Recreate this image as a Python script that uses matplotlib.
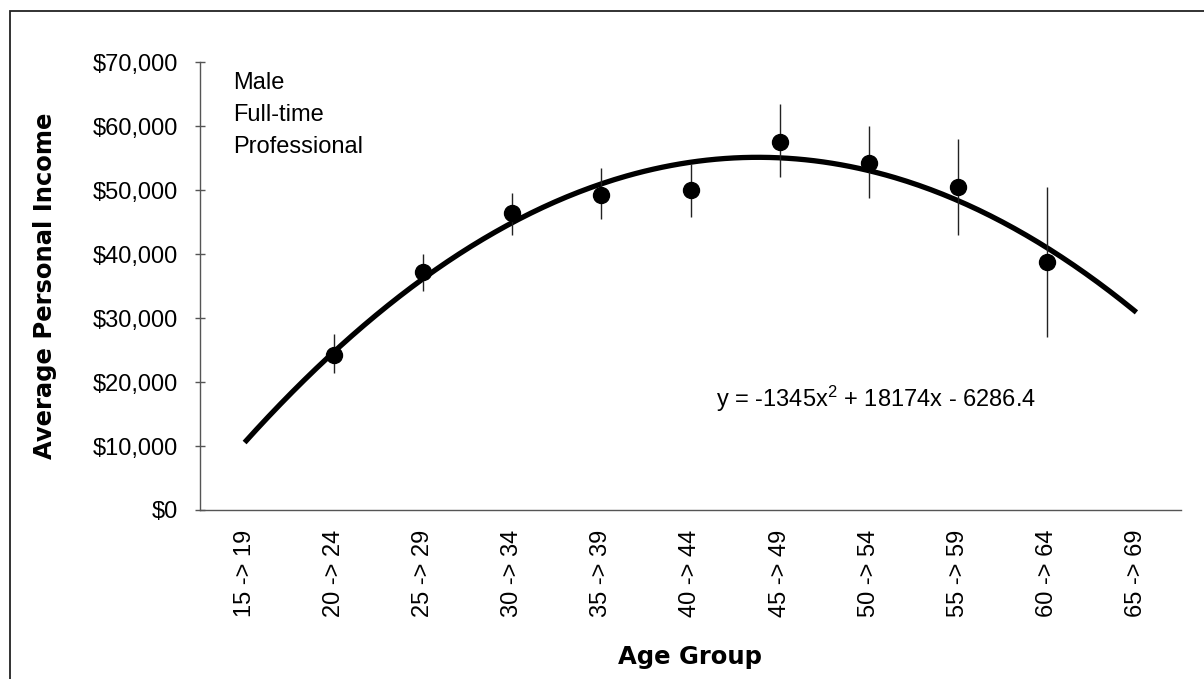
import numpy as np
import matplotlib
matplotlib.use("Agg")
import matplotlib.pyplot as plt
from matplotlib.patches import Rectangle

plt.rcParams['font.family'] = ['Liberation Sans', 'DejaVu Sans']
plt.rcParams['mathtext.default'] = 'regular'

# ---- data ----
age_groups = ["15 -> 19", "20 -> 24", "25 -> 29", "30 -> 34", "35 -> 39", "40 -> 44",
              "45 -> 49", "50 -> 54", "55 -> 59", "60 -> 64", "65 -> 69"]
point_groups = ["20 -> 24", "25 -> 29", "30 -> 34", "35 -> 39", "40 -> 44",
                "45 -> 49", "50 -> 54", "55 -> 59", "60 -> 64"]
income_mean = [24200, 37200, 46350, 49200, 50050, 57550, 54150, 50450, 38800]
income_upper = [27500, 40000, 49600, 53450, 54050, 63400, 60000, 57950, 50450]
income_lower = [21400, 34200, 42950, 45450, 45800, 52100, 48800, 42950, 27100]
# trendline coefficients as shown on the chart: y = a x^2 + b x + c, x = 1..11
trend_a, trend_b, trend_c = -1345.0, 18174.0, -6286.4
y_ticks = [0, 10000, 20000, 30000, 40000, 50000, 60000, 70000]
y_tick_labels = ["$0", "$10,000", "$20,000", "$30,000", "$40,000", "$50,000", "$60,000", "$70,000"]

W, H = 1204, 679
fig = plt.figure(figsize=(W / 100, H / 100), dpi=100)
ax = fig.add_axes([200 / W, 1 - 510 / H, (1181 - 200) / W, (510 - 62) / H])

pos = {g: i for i, g in enumerate(age_groups)}
xp = np.array([pos[g] for g in point_groups])
mean = np.array(income_mean)
err = np.vstack([mean - np.array(income_lower), np.array(income_upper) - mean])

# trendline
xt = np.linspace(1, len(age_groups), 300)
yt = trend_a * xt**2 + trend_b * xt + trend_c
ax.plot(xt - 1, yt, color='black', lw=3.8, solid_capstyle='butt', zorder=2)

ax.errorbar(xp, mean, yerr=err, fmt='o', color='black', ms=11.5,
            ecolor='#222222', elinewidth=1.0, capsize=0, zorder=3)

ax.set_xlim(-0.5, len(age_groups) - 0.5)
ax.set_ylim(0, 70000)
ax.set_yticks(y_ticks)
ax.set_yticklabels(y_tick_labels, fontsize=17)
ax.set_xticks(range(len(age_groups)))
ax.set_xticklabels(age_groups, rotation=90, fontsize=17, va='top')
ax.tick_params(axis='x', length=0, pad=14)
ax.tick_params(axis='y', direction='inout', length=7.5, width=1, color='#555555', pad=12)

for s in ['top', 'right']:
    ax.spines[s].set_visible(False)
for s in ['left', 'bottom']:
    ax.spines[s].set_color('#555555')
    ax.spines[s].set_linewidth(1.0)

fig.text(45 / W, 1 - 286 / H, "Average Personal Income", rotation=90,
         fontsize=17.5, fontweight='bold', family='DejaVu Sans', ha='center', va='center')
fig.text(690 / W, 1 - 657 / H, "Age Group", fontsize=17.5, fontweight='bold',
         family='DejaVu Sans', ha='center', va='center')

for txt, yb in [("Male", 89), ("Full-time", 121), ("Professional", 153)]:
    fig.text(233 / W, 1 - yb / H, txt, fontsize=17, ha='left', va='baseline')

fig.text(716 / W, 1 - 407 / H, "y = -1345x$^{2}$ + 18174x - 6286.4", fontsize=17,
         ha='left', va='baseline')

fig.patches.append(Rectangle((10 / W, -0.2), 1.5, (1 - 11 / H) + 0.2, transform=fig.transFigure,
                             fill=False, edgecolor='#222222', lw=1.3, clip_on=False))

fig.savefig("out.png", dpi=100)
